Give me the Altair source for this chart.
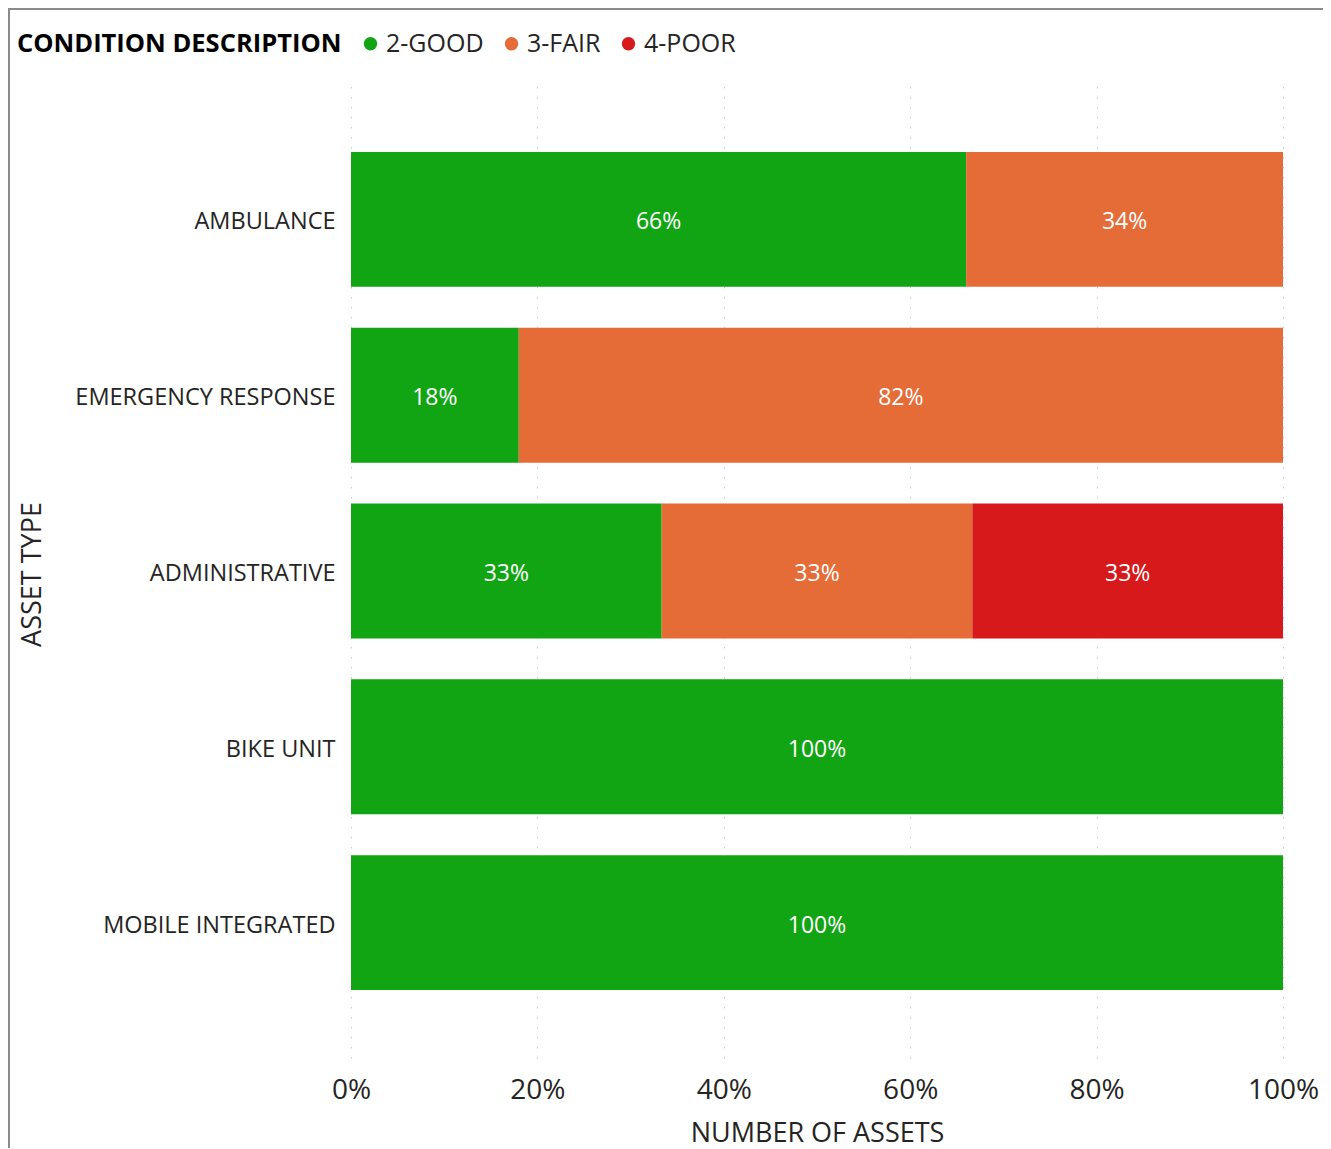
import altair as alt
import pandas as pd

asset_types = ["AMBULANCE", "EMERGENCY RESPONSE", "ADMINISTRATIVE", "BIKE UNIT", "MOBILE INTEGRATED"]
conditions = ["2-GOOD", "3-FAIR", "4-POOR"]
colors = ["#11A514", "#E66C37", "#D7191B"]

# share of assets per condition (relative units)
good = [66, 18, 1, 1, 1]
fair = [34, 82, 1, 0, 0]
poor = [0, 0, 1, 0, 0]

rows = []
for i, a in enumerate(asset_types):
    for c, vals in zip(conditions, [good, fair, poor]):
        if vals[i] > 0:
            rows.append({"asset": a, "cond": c, "order": conditions.index(c), "n": vals[i]})
df = pd.DataFrame(rows)

FONT = "Open Sans"
TXT = "#252423"

base = alt.Chart(df).transform_joinaggregate(
    total="sum(n)", groupby=["asset"]
).transform_window(
    cum="sum(n)", groupby=["asset"], sort=[alt.SortField("order")], frame=[None, 0]
).transform_calculate(
    x0="(datum.cum - datum.n) / datum.total",
    x1="datum.cum / datum.total",
    mid="(datum.cum - datum.n / 2) / datum.total",
    pct="datum.n / datum.total",
)

yenc = alt.Y(
    "asset:N",
    sort=asset_types,
    title="ASSET TYPE",
    scale=alt.Scale(paddingInner=0.233, paddingOuter=0.387),
    axis=alt.Axis(
        labelFont=FONT, labelFontSize=23.5, labelColor=TXT, labelPadding=16, labelLimit=0,
        labelOffset=3,
        titleFont=FONT, titleFontSize=27, titleFontWeight="normal", titleColor=TXT,
        titleX=-305, titleY=490, titleAngle=270, titleAlign="center", titleBaseline="bottom",
        ticks=False, domain=False, grid=False,
    ),
)

bars = base.mark_bar().encode(
    x=alt.X(
        "x0:Q",
        title="NUMBER OF ASSETS",
        scale=alt.Scale(domain=[0, 1], nice=False),
        axis=alt.Axis(
            format=".0%", values=[0, 0.2, 0.4, 0.6, 0.8, 1.0],
            labelFont=FONT, labelFontSize=28, labelColor=TXT, labelPadding=18,
            titleFont=FONT, titleFontSize=27, titleFontWeight="normal", titleColor=TXT,
            titlePadding=16, ticks=False, domain=False,
            grid=True, gridColor="#c8c8c8", gridDash=[1.5, 8.5], gridWidth=1,
            labelFlush=False,
        ),
    ),
    x2="x1:Q",
    y=yenc,
    color=alt.Color(
        "cond:N",
        scale=alt.Scale(domain=conditions, range=colors),
        legend=alt.Legend(
            title="CONDITION DESCRIPTION", orient="none", legendX=-334, legendY=-53,
            direction="horizontal", titleOrient="left", titleLimit=0, labelLimit=0,
            titleFont=FONT, titleFontSize=25.5, titleFontWeight="bold", titleColor="#000000",
            labelFont=FONT, labelFontSize=25, labelColor=TXT,
            symbolType="circle", symbolSize=180, symbolStrokeWidth=0,
            columnPadding=15, labelOffset=3, titlePadding=16,
        ),
    ),
)

labels = base.mark_text(font=FONT, fontSize=23, color="white", dy=3).encode(
    x="mid:Q",
    y=alt.Y("asset:N", sort=asset_types),
    text=alt.Text("pct:Q", format=".0%"),
)

frame = alt.Chart(pd.DataFrame({"k": [0]})).mark_rect(
    fill=None, stroke="#8a8a8a", strokeWidth=2
).encode(
    x=alt.value(-342), x2=alt.value(976), y=alt.value(-75), y2=alt.value(1100)
)

chart = alt.layer(frame, bars, labels).properties(
    width=932, height=974,
    autosize=alt.AutoSizeParams(type="none"),
    padding={"left": 343, "top": 76, "right": 40, "bottom": 90},
).configure_view(stroke=None)

chart.save("out.html", embed_options={"renderer": "svg", "actions": False})
